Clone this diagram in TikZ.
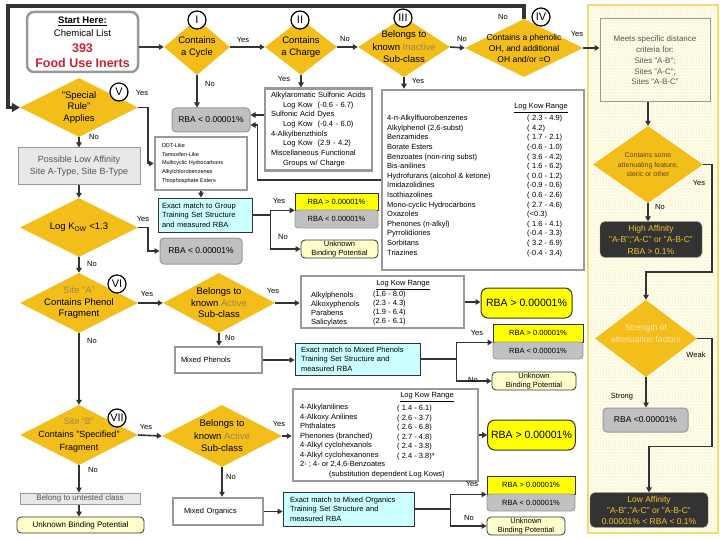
\documentclass[tikz,border=0pt]{standalone}
\usepackage{fontspec}
\setmainfont{Liberation Sans}
\usepackage{xcolor}
\definecolor{linecolor}{HTML}{333333}
\definecolor{diamondfill}{HTML}{F4BE1A}
\definecolor{boxborder}{HTML}{999999}
\definecolor{rbagray}{HTML}{C0C0C0}
\definecolor{rbayellow}{HTML}{FFFF00}
\definecolor{matchcyan}{HTML}{CCFFFF}
\definecolor{unknownfill}{HTML}{FFFFCC}
\definecolor{panelfill}{HTML}{FFFCE8}
\definecolor{paneldots}{HTML}{E0D9B0}
\definecolor{panelborder}{HTML}{F2DC78}
\definecolor{darkfill}{HTML}{333333}
\definecolor{goldtext}{HTML}{F2C330}
\definecolor{inertred}{HTML}{CC2233}
\definecolor{tantext}{HTML}{9C8650}
\definecolor{softtext}{HTML}{555555}
\definecolor{lightgrayfill}{HTML}{E8E8E8}
\definecolor{atttext}{HTML}{5A4A20}
\definecolor{strtext}{HTML}{FAE6B0}
\usepackage{tikz}
\usetikzlibrary{arrows.meta,shapes.geometric,calc,patterns}

\newcommand{\fsize}[2]{\fontsize{#1}{#2}\selectfont}

\tikzset{
    decision/.style={
        diamond,
        fill=diamondfill,
        inner sep=0pt,
        aspect=2,
    },
    dtext/.style={
        font=\fsize{9.5}{12},
        align=center,
        text=black,
        inner sep=0pt,
    },
    rnum/.style={
        circle,
        draw=black,
        fill=white,
        line width=1.2pt,
        minimum size=18pt,
        inner sep=0.5pt,
        font=\fsize{11}{11},
    },
    startbox/.style={
        rectangle,
        rounded corners=7pt,
        draw=boxborder,
        fill=white,
        line width=2.5pt,
        align=center,
    },
    listbox/.style={
        rectangle,
        draw=boxborder,
        fill=white,
        line width=2.5pt,
        align=left,
    },
    listtext/.style={
        anchor=north west,
        inner sep=0pt,
        align=left,
        font=\fsize{7.5}{9.6},
    },
    rangehead/.style={
        inner sep=0pt,
        font=\fsize{7.5}{9},
    },
    rbalow/.style={
        rectangle,
        rounded corners=4pt,
        draw=boxborder,
        fill=rbagray,
        line width=1pt,
        font=\fsize{8.5}{10},
    },
    splittop/.style={
        rectangle,
        draw=linecolor,
        fill=rbayellow,
        line width=0.8pt,
        inner sep=0pt,
        font=\fsize{7.5}{9},
    },
    splitbottom/.style={
        rectangle,
        rounded corners=3pt,
        draw=boxborder,
        fill=rbagray,
        line width=0.8pt,
        inner sep=0pt,
        font=\fsize{7.5}{9},
    },
    rbabig/.style={
        rectangle,
        rounded corners=7pt,
        draw=linecolor,
        fill=rbayellow,
        line width=1pt,
        font=\fsize{10.5}{12},
    },
    matchbox/.style={
        rectangle,
        draw=linecolor,
        fill=matchcyan,
        line width=0.8pt,
        align=left,
        font=\fsize{7.5}{9.5},
    },
    unknownbox/.style={
        rectangle,
        rounded corners=4pt,
        draw=linecolor,
        fill=unknownfill,
        line width=0.8pt,
        inner sep=0pt,
        align=center,
        font=\fsize{7.5}{9},
    },
    darkbox/.style={
        rectangle,
        rounded corners=5pt,
        fill=darkfill,
        draw=gray,
        text=goldtext,
        align=center,
        font=\fsize{8.5}{11.5},
    },
    softbox/.style={
        rectangle,
        draw=boxborder,
        fill=lightgrayfill,
        line width=1pt,
        text=softtext,
        align=center,
    },
    panelbox/.style={
        rectangle,
        draw=panelborder,
        line width=2pt,
        preaction={fill=panelfill},
        pattern=dots,
        pattern color=paneldots,
    },
    lbl/.style={
        font=\fsize{7.5}{8},
        inner sep=0pt,
    },
    flow/.style={
        draw=linecolor,
        line width=1.6pt,
        -{Triangle[length=5pt,width=5.5pt]},
    },
    loopline/.style={
        draw=linecolor,
        line width=3.5pt,
        -{Triangle[length=8pt,width=9pt]},
    },
}

\begin{document}
\begin{tikzpicture}[x=1pt,y=-1pt]
    \fill[white] (0,0) rectangle (720,540);
    \useasboundingbox (0,0) rectangle (720,540);

    % Right-hand panel (site distance branch)
    \node[panelbox, minimum width=130pt, minimum height=528pt] (panel) at (653,269) {};
    \node[rectangle, draw=boxborder, line width=1pt, minimum width=110pt, minimum height=83pt,
          align=center, text=softtext, font=\fsize{8}{10.7}] (meets) at (655,60.5)
        {Meets specific distance\\criteria for:\\Sites "A-B";\\Sites "A-C";\\Sites "A-B-C"};
    \node[decision, minimum width=110pt, minimum height=77pt,
          label={[dtext, font=\fsize{7}{9.5}, text=atttext]center:{Contains some\\attenuating feature,\\steric or other}}] (dAtt) at (648,164.5) {};
    \node[darkbox, minimum width=102pt, minimum height=35pt] (highAff) at (651,239.5)
        {High Affinity\\"A-B";"A-C" or "A-B-C"\\RBA > 0.1\%};
    \node[decision, minimum width=102pt, minimum height=77pt,
          label={[dtext, font=\fsize{8.5}{12.5}, text=strtext, yshift=5pt]center:{Strength of\\attenuation factors}}] (dStr) at (646,338.5) {};
    \node[rbalow, minimum width=85pt, minimum height=24pt] (rbaLowR) at (645.5,420) {RBA <0.00001\%};
    \node[darkbox, minimum width=118pt, minimum height=34pt, font=\fsize{8.5}{11}] (lowAff) at (649,510)
        {Low Affinity\\"A-B","A-C" or "A-B-C"\\0.00001\% < RBA < 0.1\%};

    % Top row of decisions
    \node[startbox, minimum width=111pt, minimum height=60pt] (start) at (82.5,42)
        {\fsize{9.5}{11}\underline{\textbf{Start Here:}}\\[1pt]
         \fsize{9.5}{12}Chemical List\\[4pt]
         \fsize{12.5}{15}\bfseries\color{inertred}393\\[3pt]
         \fsize{12.5}{15}\bfseries\color{inertred}Food Use Inerts};
    \node[decision, minimum width=66pt, minimum height=56pt,
          label={[dtext]center:{Contains\\a Cycle}}] (dI) at (197,47) {};
    \node[decision, minimum width=72pt, minimum height=56pt,
          label={[dtext]center:{Contains\\a Charge}}] (dII) at (301,47) {};
    \node[decision, minimum width=92pt, minimum height=60pt,
          label={[dtext, font=\fsize{9.5}{12.5}]center:{Belongs to\\known {\color{tantext}Inactive}\\Sub-class}}] (dIII) at (404,47) {};
    \node[decision, minimum width=118pt, minimum height=58pt,
          label={[dtext, font=\fsize{8.5}{11}]center:{Contains a phenolic\\OH, and additional\\OH and/or =O}}] (dIV) at (524,48) {};

    \node[rbalow, minimum width=78pt, minimum height=24pt] (rbaLow1) at (211,120) {RBA < 0.00001\%};
    \node[listbox, text width=95pt, minimum width=107pt, minimum height=81pt, font=\fsize{7.5}{9.7}] (charge) at (318.5,129.5)
        {Alkylaromatic Sulfonic Acids\\
         \hspace*{12pt}Log Kow\ \ (-0.6 - 6.7)\\
         Sulfonic Acid Dyes\\
         \hspace*{12pt}Log Kow\ \ (-0.4 - 6.0)\\
         4-Alkylbenzthiols\\
         \hspace*{12pt}Log Kow\ \ (2.9 - 4.2)\\
         Miscellaneous Functional\\
         \hspace*{12pt}Groups w/ Charge};

    % Inactive sub-classes
    \node[listbox, minimum width=202pt, minimum height=180pt] (inactive) at (483,180) {};
    \node[listtext] (inactiveNames) at (387,115)
        {4-n-Alkylfluorobenzenes\\Alkylphenol (2,6-subst)\\Benzamides\\Borate Esters\\
         Benzoates (non-ring subst)\\Bis-anilines\\Hydrofurans (alcohol \& ketone)\\
         Imidazolidines\\Isothiazolines\\Mono-cyclic Hydrocarbons\\Oxazoles\\
         Phenones (n-alkyl)\\Pyrrolidiones\\Sorbitans\\Triazines};
    \node[rangehead] (inactiveHead) at (541,108) {\underline{Log Kow Range}};
    \node[listtext] (inactiveRange) at (527,115)
        {(\phantom{-}2.3 - 4.9)\\(\phantom{-}4.2)\\(\phantom{-}1.7 - 2.1)\\(-0.6 - 1.0)\\
         (\phantom{-}3.6 - 4.2)\\(\phantom{-}1.6 - 6.2)\\(\phantom{-}0.0 - 1.2)\\(-0.9 - 0.6)\\
         (\phantom{-}0.6 - 2.6)\\(\phantom{-}2.7 - 4.6)\\(<0.3)\\(\phantom{-}1.6 - 4.1)\\
         (-0.4 - 3.3)\\(\phantom{-}3.2 - 6.9)\\(-0.4 - 3.4)};

    % Left column
    \node[decision, minimum width=118pt, minimum height=59pt,
          label={[dtext, font=\fsize{9.5}{11.5}]center:{"Special\\Rule"\\Applies}}] (dV) at (79,107.5) {};
    \node[softbox, minimum width=122pt, minimum height=37pt, font=\fsize{9}{12}] (possible) at (79,166.5)
        {Possible Low Affinity\\Site A-Type, Site B-Type};
    \node[decision, minimum width=118pt, minimum height=59pt,
          label={[dtext]center:{Log K\textsubscript{OW} <1.3}}] (dLog) at (79,227.5) {};
    \node[decision, minimum width=118pt, minimum height=60pt,
          label={[dtext, font=\fsize{9.5}{11.5}]center:{{\color{tantext}Site "A"}\\Contains Phenol\\Fragment}}] (dVI) at (79,303) {};
    \node[decision, minimum width=118pt, minimum height=60pt,
          label={[dtext, font=\fsize{9}{12.7}]center:{{\color{tantext}Site "B"}\\Contains "Specified"\\Fragment}}] (dVII) at (79,435) {};
    \node[softbox, minimum width=120pt, minimum height=11pt, inner sep=1pt, font=\fsize{8}{9}] (untested) at (80,498.5)
        {Belong to untested class};
    \node[unknownbox, minimum width=127pt, minimum height=16pt, font=\fsize{8}{9}] (unkL) at (80.5,525)
        {Unknown Binding Potential};

    % Middle column
    \node[listbox, text width=78pt, minimum width=92pt, minimum height=53pt, font=\fsize{5.5}{8.75}] (ddt) at (201,163.5)
        {DDT-Like\\Tamoxifen-Like\\Multicyclic Hydrocarbons\\Alkylchlorobenzenes\\Thiophosphate Esters};
    \node[matchbox, text width=86pt, minimum width=94pt, minimum height=34pt] (exact1) at (205,215)
        {Exact match to Group\\Training Set Structure\\and measured RBA};
    \node[rbalow, minimum width=82pt, minimum height=26pt] (rbaLow2) at (201,251) {RBA < 0.00001\%};
    \node[splittop, minimum width=83pt, minimum height=17pt] (split1y) at (336.5,201.5) {RBA > 0.00001\%};
    \node[splitbottom, minimum width=83pt, minimum height=18pt] (split1g) at (336.5,219) {RBA < 0.00001\%};
    \node[unknownbox, minimum width=77pt, minimum height=18pt] (unk1) at (339.5,249) {Unknown\\Binding Potential};

    \node[decision, minimum width=112pt, minimum height=60pt,
          label={[dtext, font=\fsize{9.5}{11.5}]center:{Belongs to\\known {\color{tantext}Active}\\Sub-class}}] (dAct1) at (219,303) {};
    \node[listbox, minimum width=163pt, minimum height=52pt] (alkyl) at (382.5,302) {};
    \node[listtext, font=\fsize{7.5}{9}] (alkylNames) at (311,292)
        {Alkylphenols\\Alkoxyphenols\\Parabens\\Salicylates};
    \node[rangehead] (alkylHead) at (403,285) {\underline{Log Kow Range}};
    \node[listtext, font=\fsize{7.5}{9}] (alkylRange) at (373,291)
        {(1.6 - 8.0)\\(2.3 - 4.3)\\(1.9 - 6.4)\\(2.6 - 6.1)};
    \node[rbabig, minimum width=91pt, minimum height=30pt] (rbaHi1) at (526.5,303) {RBA > 0.00001\%};

    \node[listbox, text width=75pt, minimum width=87pt, minimum height=26pt, font=\fsize{7.5}{9}] (mixPh) at (218.5,360) {Mixed Phenols};
    \node[matchbox, text width=113pt, minimum width=125pt, minimum height=32pt] (exact2) at (357.5,359)
        {Exact match to Mixed Phenols\\Training Set Structure and\\measured RBA};
    \node[splittop, minimum width=90pt, minimum height=18pt] (split2y) at (538,333) {RBA > 0.00001\%};
    \node[splitbottom, minimum width=90pt, minimum height=17pt] (split2g) at (538,350.5) {RBA < 0.00001\%};
    \node[unknownbox, minimum width=84pt, minimum height=18pt] (unk2) at (534,381) {Unknown\\Binding Potential};

    \node[decision, minimum width=120pt, minimum height=62pt,
          label={[dtext, font=\fsize{9.5}{12.5}]center:{Belongs to\\known {\color{tantext}Active}\\Sub-class}}] (dAct2) at (222,436) {};
    \node[listbox, minimum width=185pt, minimum height=92pt] (anil) at (385.5,435) {};
    \node[listtext, font=\fsize{7.5}{9.5}] (anilNames) at (300,404)
        {4-Alkylanilines\\4-Alkoxy Anilines\\Phthalates\\Phenones (branched)\\
         4-Alkyl cyclohexanols\\4-Alkyl cyclohexanones\\2- ; 4- or 2,4,6-Benzoates\\
         \hspace*{29pt}(substitution dependent Log Kows)};
    \node[rangehead] (anilHead) at (427,397) {\underline{Log Kow Range}};
    \node[listtext, font=\fsize{7.5}{9.5}] (anilRange) at (397,405)
        {( 1.4 - 6.1)\\( 2.6 - 3.7)\\( 2.6 - 6.8)\\( 2.7 - 4.8)\\( 2.4 - 3.8)\\( 2.4 - 3.8)*};
    \node[rbabig, minimum width=87pt, minimum height=30pt] (rbaHi2) at (531.5,435) {RBA > 0.00001\%};

    \node[listbox, text width=68pt, minimum width=90pt, minimum height=27pt, font=\fsize{7.5}{9}] (mixOrg) at (218,511.5) {Mixed Organics};
    \node[matchbox, text width=117pt, minimum width=131pt, minimum height=34pt] (exact3) at (348.5,509)
        {Exact match to Mixed Organics\\Training Set Structure and\\measured RBA};
    \node[splittop, minimum width=88pt, minimum height=18pt] (split3y) at (531,485) {RBA > 0.00001\%};
    \node[splitbottom, minimum width=88pt, minimum height=17pt] (split3g) at (531,502.5) {RBA < 0.00001\%};
    \node[unknownbox, minimum width=78pt, minimum height=18pt] (unk3) at (526,526) {Unknown\\Binding Potential};

    % Roman numerals
    \node[rnum] (cI) at (197,20) {I};
    \node[rnum] (cII) at (300,20) {II};
    \node[rnum] (cIII) at (403,18) {III};
    \node[rnum] (cIV) at (541,17) {IV};
    \node[rnum] (cV) at (119,92) {V};
    \node[rnum] (cVI) at (117,284) {VI};
    \node[rnum] (cVII) at (117,418) {VII};

    % Connections
    \coordinate (loopCorner) at (8,6);
    \draw[loopline] (dIV.north) |- (loopCorner) |- (dV.west);
    \draw[flow] (start.east|-dI.west) -- (dI.west);
    \draw[flow] (dI.east) -- (dII.west);
    \draw[flow] (dII.east) -- (dIII.west);
    \draw[flow] (dIII.east) -- (dIV.west);
    \draw[flow] (dIV.east) -- (dIV.east-|meets.west);
    \draw[flow] (dI.south) -- (dI.south|-rbaLow1.north);
    \draw[flow] (dII.south) -- (dII.south|-charge.north);
    \draw[flow] (dIII.south) -- (dIII.south|-inactive.north);
    \coordinate (rbaInA) at ($(rbaLow1.east)+(0,-5)$);
    \coordinate (rbaInB) at ($(rbaLow1.east)+(0,5)$);
    \draw[flow] (charge.west|-rbaInA) -- (rbaInA);
    \draw[flow] (inactive.west) -| ($(rbaInB)+(7,0)$) -- (rbaInB);

    \draw[flow] (meets.south-|dAtt.north) -- (dAtt.north);
    \draw[flow] (dAtt.south) -- (dAtt.south|-highAff.north);
    \coordinate (attTurn) at ($(dStr.north)+(0,-28)$);
    \draw[flow] (dAtt.east) -- ++(9,0) |- (attTurn) -- (dStr.north);
    \coordinate (weakTurn) at ($(lowAff.north)+(0,-46)$);
    \draw[flow] (dStr.east) -- ++(15,0) |- (weakTurn) -- (lowAff.north);
    \draw[flow] (dStr.south) -- (dStr.south|-rbaLowR.north);

    \draw[flow] (dV.east) -- ++(10,0) |- (ddt.west);
    \draw[flow] (dV.south) -- (possible.north);
    \draw[flow] (possible.south) -- (dLog.north);
    \draw[flow] (dLog.east) -- ++(10,0) |- (rbaLow2.west);
    \draw[flow] (dLog.south) -- (dVI.north);
    \draw[flow] (dVI.east) -- (dAct1.west);
    \draw[flow] (dVI.south) -- (dVII.north);
    \draw[flow] (dVII.east) -- (dAct2.west);
    \draw[flow] (dVII.south) -- (dVII.south|-untested.north);
    \draw[flow] (untested.south-|dVII.south) -- (dVII.south|-unkL.north);

    \draw[flow] (ddt.south) -- (ddt.south|-exact1.north);
    \draw[flow] (exact1.east) -- ++(18,0) |- (split1y.south west);
    \draw[flow] (exact1.east) -- ++(18,0) |- (unk1.west);
    \draw[flow] (dAct1.east) -- (dAct1.east-|alkyl.west);
    \draw[flow] (alkyl.east) -- (alkyl.east-|rbaHi1.west);
    \draw[flow] (dAct1.south) -- (dAct1.south|-mixPh.north);
    \draw[flow] (mixPh.east) -- (mixPh.east-|exact2.west);
    \draw[flow] (exact2.east) -- ++(36,0) |- (split2y.south west);
    \draw[flow] (exact2.east) -- ++(36,0) |- (unk2.west);
    \draw[flow] (dAct2.east) -- (dAct2.east-|anil.west);
    \draw[flow] (anil.east) -- (anil.east-|rbaHi2.west);
    \draw[flow] (dAct2.south) -- (dAct2.south|-mixOrg.north);
    \draw[flow] (mixOrg.east) -- (mixOrg.east-|exact3.west);
    \draw[flow] (exact3.east) -- ++(36,0) |- (split3y.south west);
    \draw[flow] (exact3.east) -- ++(36,0) |- (unk3.west);

    % Branch labels
    \node[lbl] (yesI) at (243,40) {Yes};
    \node[lbl] (noI) at (210,84) {No};
    \node[lbl] (noII) at (345,39) {No};
    \node[lbl] (yesII) at (284,79) {Yes};
    \node[lbl] (noIII) at (462,39) {No};
    \node[lbl] (yesIII) at (418,81) {Yes};
    \node[lbl] (noIV) at (503,17) {No};
    \node[lbl] (yesIV) at (577,34) {Yes};
    \node[lbl] (yesV) at (142,93) {Yes};
    \node[lbl] (noV) at (94,137) {No};
    \node[lbl] (yesLog) at (143,219) {Yes};
    \node[lbl] (noLog) at (92,264) {No};
    \node[lbl] (yesVI) at (147,294) {Yes};
    \node[lbl] (noVI) at (92,341) {No};
    \node[lbl] (yesVII) at (146,427) {Yes};
    \node[lbl] (noVII) at (93,470) {No};
    \node[lbl] (yesMatch1) at (279,201) {Yes};
    \node[lbl] (noMatch1) at (283,237) {No};
    \node[lbl] (yesAct1) at (273,291) {Yes};
    \node[lbl] (noAct1) at (230,338) {No};
    \node[lbl] (yesMatch2) at (477,333) {Yes};
    \node[lbl] (noMatch2) at (473,380) {No};
    \node[lbl] (yesAct2) at (279,424) {Yes};
    \node[lbl] (noAct2) at (231,477) {No};
    \node[lbl] (yesMatch3) at (472,484) {Yes};
    \node[lbl] (noMatch3) at (469,518) {No};
    \node[lbl] (yesAtt) at (699,183) {Yes};
    \node[lbl] (noAtt) at (660,207) {No};
    \node[lbl] (weakLbl) at (696,355) {Weak};
    \node[lbl] (strongLbl) at (622,397) {Strong};
\end{tikzpicture}
\end{document}
